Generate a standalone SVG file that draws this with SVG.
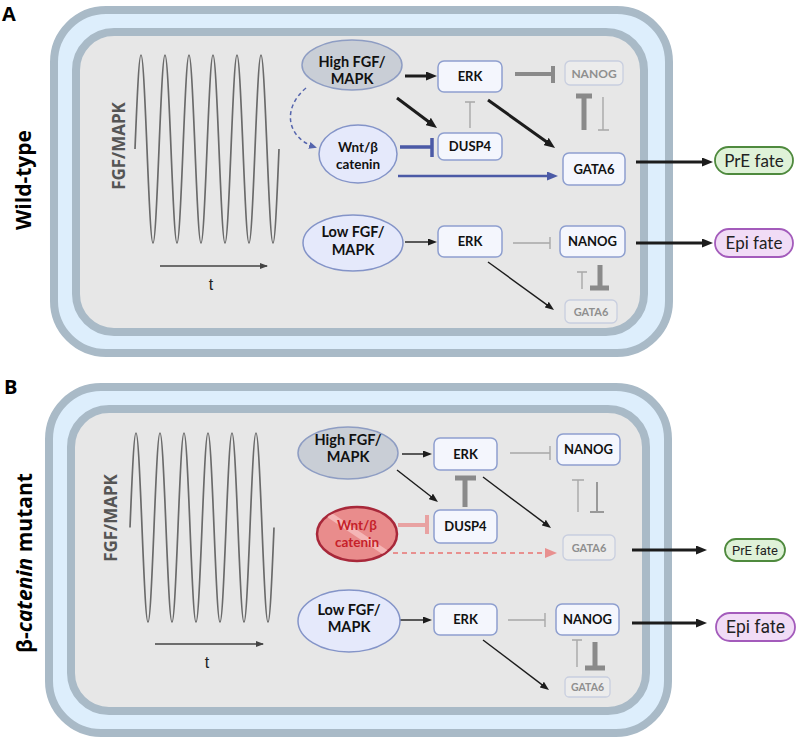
<svg xmlns="http://www.w3.org/2000/svg" width="798" height="740" viewBox="0 0 798 740">
<style>
.cellOuter{fill:#ddeefc;stroke:#a9bac7;stroke-width:8}
.cellInner{fill:#e7e7e7;stroke:#a9bac7;stroke-width:8}
.box{fill:#f4f6fd;stroke:#8e9fcf;stroke-width:1.5}
.boxF{fill:#ececec;stroke:#c8cedf;stroke-width:1.3}
.lbl{font-family:Lato,"Liberation Sans",sans-serif;font-weight:700;fill:#111;text-anchor:middle}
.lblF{font-family:Lato,"Liberation Sans",sans-serif;font-weight:700;fill:#8f8f8f;text-anchor:middle}
.ell{fill:#e5e9fb;stroke:#8494c8;stroke-width:1.5}
.ellG{fill:#c9ced6;stroke:#8e9dc3;stroke-width:1.5}
.wave{fill:none;stroke:#6a6a6a;stroke-width:1.7}
.ax{font-family:"Liberation Sans",Arial,sans-serif;fill:#222;text-anchor:middle}
.axl{font-family:"Open Sans","Liberation Sans",sans-serif;font-weight:700;fill:#555;text-anchor:middle}
.side{font-family:"Open Sans","Liberation Sans",sans-serif;font-weight:700;fill:#000;text-anchor:middle}
.thick{stroke:#1c1c1c;stroke-width:3;fill:none}
.thin{stroke:#1c1c1c;stroke-width:1.4;fill:none}
.inhT{stroke:#8a8a8a;stroke-width:5;fill:none}
.inhM{stroke:#8a8a8a;stroke-width:4;fill:none}
.inhS{stroke:#a8a8a8;stroke-width:1.4;fill:none}
.fate{font-family:Lato,"Liberation Sans",sans-serif;fill:#222;text-anchor:middle}
.fateR{font-family:Roboto,"Liberation Sans",sans-serif;fill:#222;text-anchor:middle}
.pre{fill:#dff2d8;stroke:#4f8a3e;stroke-width:1.8}
.epi{fill:#f1dcf6;stroke:#a35bbb;stroke-width:1.8}
</style>
<defs>
<marker id="ahK" viewBox="0 0 11 9" refX="6" refY="4.5" markerWidth="11" markerHeight="9" markerUnits="userSpaceOnUse" orient="auto"><path d="M0,0 L11,4.5 L0,9 z" fill="#1c1c1c"/></marker>
<marker id="ahk" viewBox="0 0 9 7" refX="5" refY="3.5" markerWidth="9" markerHeight="7" markerUnits="userSpaceOnUse" orient="auto"><path d="M0,0 L9,3.5 L0,7 z" fill="#1c1c1c"/></marker>
<marker id="ahAx" viewBox="0 0 8 6" refX="7" refY="3" markerWidth="8" markerHeight="6" markerUnits="userSpaceOnUse" orient="auto"><path d="M0,0 L8,3 L0,6 z" fill="#444"/></marker>
<marker id="ahB" viewBox="0 0 11 9" refX="6" refY="4.5" markerWidth="11" markerHeight="9" markerUnits="userSpaceOnUse" orient="auto"><path d="M0,0 L11,4.5 L0,9 z" fill="#4b5aa6"/></marker>
<marker id="ahBd" viewBox="0 0 8 7" refX="7" refY="3.5" markerWidth="8" markerHeight="7" markerUnits="userSpaceOnUse" orient="auto"><path d="M0,0 L8,3.5 L0,7 z" fill="#5565ad"/></marker>
<marker id="ahP" viewBox="0 0 12 10" refX="6" refY="5" markerWidth="12" markerHeight="10" markerUnits="userSpaceOnUse" orient="auto"><path d="M0,0 L12,5 L0,10 z" fill="#e8908f"/></marker>
<clipPath id="wntClip"><ellipse cx="357" cy="534" rx="39" ry="26"/></clipPath>
</defs>

<!-- Panel labels -->
<text x="2" y="21" font-family="Open Sans, Liberation Sans, sans-serif" font-weight="700" font-size="20" fill="#000">A</text>
<text x="4" y="394" font-family="Open Sans, Liberation Sans, sans-serif" font-weight="700" font-size="20" fill="#000">B</text>
<text class="side" font-size="21" transform="translate(31,180) rotate(-90)">Wild-type</text>
<text class="side" font-size="21" transform="translate(32,563) rotate(-90)">β-<tspan font-style="italic">catenin</tspan> mutant</text>

<!-- Cells -->
<g id="cellA">
<rect class="cellOuter" x="54" y="10" width="615" height="343" rx="52"/>
<rect class="cellInner" x="76" y="32" width="568" height="300" rx="38"/>
</g>
<g id="cellB">
<rect class="cellOuter" x="49" y="387" width="619" height="346" rx="52"/>
<rect class="cellInner" x="71" y="409" width="575" height="302" rx="38"/>
</g>

<!-- Oscillation plots -->
<g id="plotA">
<path class="wave" d="M135,149 c5.09,-125.3 6.91,-125.3 12,0 s6.91,125.3 12,0 s6.91,-125.3 12,0 s6.91,125.3 12,0 s6.91,-125.3 12,0 s6.91,125.3 12,0 s6.91,-125.3 12,0 s6.91,125.3 12,0 s6.91,-125.3 12,0 s6.91,125.3 12,0 s6.91,-125.3 12,0 s6.91,125.3 12,0"/>
<text class="axl" font-size="17" transform="translate(125,146) rotate(-90)">FGF/MAPK</text>
<line x1="160" y1="266" x2="267" y2="266" stroke="#444" stroke-width="1.5" marker-end="url(#ahAx)"/>
<text class="ax" x="211" y="290" font-size="16">t</text>
</g>
<g id="plotB">
<path class="wave" d="M130,527.5 c5.09,-126 6.91,-126 12,0 s6.91,126 12,0 s6.91,-126 12,0 s6.91,126 12,0 s6.91,-126 12,0 s6.91,126 12,0 s6.91,-126 12,0 s6.91,126 12,0 s6.91,-126 12,0 s6.91,126 12,0 s6.91,-126 12,0 s6.91,126 12,0"/>
<text class="axl" font-size="17" transform="translate(117,518) rotate(-90)">FGF/MAPK</text>
<line x1="155" y1="644" x2="263" y2="644" stroke="#444" stroke-width="1.5" marker-end="url(#ahAx)"/>
<text class="ax" x="207" y="668" font-size="16">t</text>
</g>

<!-- Connectors -->
<g id="connectors">
<!-- Panel A top -->
<line class="thick" x1="405" y1="76" x2="432" y2="76" marker-end="url(#ahK)"/>
<line class="thick" x1="397" y1="98" x2="433" y2="125" marker-end="url(#ahK)"/>
<line class="thick" x1="488" y1="100" x2="551" y2="145" marker-end="url(#ahK)"/>
<path class="inhM" d="M515,74 H553 M553,66 V83"/>
<path class="inhS" d="M470,128 V102 M465,102 H475"/>
<path class="inhT" d="M584,130 V96 M576,96 H592"/>
<path class="inhS" d="M603,97 V130 M598,130 H609"/>
<path d="M400,147 H432 M432,138 V157" stroke="#4b5aa6" stroke-width="3.5" fill="none"/>
<line x1="398" y1="176" x2="553" y2="176" stroke="#4b5aa6" stroke-width="2.5" marker-end="url(#ahB)"/>
<path d="M306,88 C282,108 286,138 316,147.5" stroke="#5565ad" stroke-width="1.5" stroke-dasharray="4,3" fill="none" marker-end="url(#ahBd)"/>
<line class="thick" x1="636" y1="162" x2="708" y2="162" marker-end="url(#ahK)"/>
<!-- Panel A bottom -->
<line class="thin" x1="405" y1="242" x2="433" y2="242" marker-end="url(#ahk)"/>
<path class="inhS" d="M513,243 H550 M550,237 V249"/>
<line class="thin" x1="488" y1="262" x2="550.8" y2="307.6" marker-end="url(#ahk)"/>
<path class="inhS" d="M582,289 V272 M577,272 H587"/>
<path class="inhT" d="M600,265 V288 M590,288 H609"/>
<line class="thick" x1="636" y1="243" x2="708" y2="243" marker-end="url(#ahK)"/>
<!-- Panel B top -->
<line class="thin" x1="402" y1="454" x2="428" y2="454" marker-end="url(#ahk)"/>
<line class="thin" x1="397" y1="470" x2="434.8" y2="499.5" marker-end="url(#ahk)"/>
<path class="inhS" d="M510,453 H550 M550,446 V460"/>
<path class="inhT" d="M465,507 V478 M455,478 H476"/>
<line class="thin" x1="483" y1="477" x2="547.8" y2="525.6" marker-end="url(#ahk)"/>
<path class="inhS" d="M578,512 V480 M572,480 H584"/>
<path d="M597,482 V512 M590,512 H604" stroke="#999" stroke-width="2" fill="none"/>
<path d="M398,525 H427 M427,515 V534" stroke="#e8a2a2" stroke-width="4" fill="none"/>
<line x1="393" y1="553" x2="551" y2="553" stroke="#e8908f" stroke-width="2" stroke-dasharray="5,4" marker-end="url(#ahP)"/>
<line class="thick" x1="632" y1="550" x2="702" y2="550" marker-end="url(#ahK)"/>
<!-- Panel B bottom -->
<line class="thin" x1="400" y1="620" x2="428" y2="620" marker-end="url(#ahk)"/>
<path class="inhS" d="M508,620 H545 M545,613 V627"/>
<line class="thin" x1="483" y1="640" x2="545.8" y2="687.6" marker-end="url(#ahk)"/>
<path class="inhS" d="M577,667 V640 M572,640 H582"/>
<path class="inhT" d="M595,642 V668 M585,668 H605"/>
<line class="thick" x1="632" y1="623" x2="702" y2="623" marker-end="url(#ahK)"/>
</g>

<!-- Panel A nodes -->
<g id="A-highFGF">
<ellipse class="ellG" cx="352" cy="65" rx="50" ry="25"/>
<text class="lbl" x="352" y="66.5" font-size="14.5">High  FGF/</text>
<text class="lbl" x="352" y="84" font-size="14.5">MAPK</text>
</g>
<g id="A-ERK1"><rect class="box" x="438" y="61" width="64" height="31" rx="6"/><text class="lbl" x="470" y="81" font-size="13">ERK</text></g>
<g id="A-NANOG1"><rect class="boxF" x="565" y="61" width="58" height="24" rx="5"/><text class="lblF" x="594" y="77.5" font-size="12">NANOG</text></g>
<g id="A-DUSP4"><rect class="box" x="438" y="133" width="64" height="27" rx="6"/><text class="lbl" x="470" y="151" font-size="13">DUSP4</text></g>
<g id="A-GATA61"><rect class="box" x="563" y="153" width="62" height="32" rx="6"/><text class="lbl" x="594" y="173.5" font-size="13">GATA6</text></g>
<g id="A-Wnt">
<ellipse class="ell" cx="358" cy="154" rx="39" ry="29" stroke="#7f8fcc"/>
<text class="lbl" x="358" y="151.5" font-size="13.5">Wnt/β</text>
<text class="lbl" x="358" y="168.5" font-size="13.5">catenin</text>
</g>
<g id="A-lowFGF">
<ellipse class="ell" cx="353" cy="243" rx="50" ry="28"/>
<text class="lbl" x="353" y="237" font-size="14.5">Low  FGF/</text>
<text class="lbl" x="353" y="254.5" font-size="14.5">MAPK</text>
</g>
<g id="A-ERK2"><rect class="box" x="438" y="226" width="64" height="31" rx="6"/><text class="lbl" x="470" y="246" font-size="13">ERK</text></g>
<g id="A-NANOG2"><rect class="box" x="560" y="226" width="65" height="31" rx="6"/><text class="lbl" x="592.5" y="246" font-size="13">NANOG</text></g>
<g id="A-GATA62"><rect class="boxF" x="565" y="300" width="52" height="23" rx="5"/><text class="lblF" x="591" y="316" font-size="11">GATA6</text></g>
<g id="A-PrE"><rect class="pre" x="715" y="147" width="78" height="27" rx="13.5"/><text class="fate" x="754" y="166.5" font-size="17">PrE fate</text></g>
<g id="A-Epi"><rect class="epi" x="715" y="229" width="78" height="28" rx="14"/><text class="fate" x="754" y="249" font-size="17">Epi fate</text></g>

<!-- Panel B nodes -->
<g id="B-highFGF">
<ellipse class="ellG" cx="348" cy="453" rx="50" ry="26"/>
<text class="lbl" x="348" y="444.5" font-size="14.5">High  FGF/</text>
<text class="lbl" x="348" y="462" font-size="14.5">MAPK</text>
</g>
<g id="B-ERK1"><rect class="box" x="434" y="438" width="63" height="32" rx="6"/><text class="lbl" x="465.5" y="458.5" font-size="13">ERK</text></g>
<g id="B-NANOG1"><rect class="box" x="557" y="434" width="63" height="31" rx="6"/><text class="lbl" x="588.5" y="454" font-size="13">NANOG</text></g>
<g id="B-DUSP4"><rect class="box" x="434" y="510" width="63" height="33" rx="6"/><text class="lbl" x="465.5" y="531" font-size="13">DUSP4</text></g>
<g id="B-Wnt">
<ellipse cx="357" cy="534" rx="40" ry="27" fill="#e98c8c" stroke="#a8283a" stroke-width="2.5"/>
<line x1="325" y1="512" x2="392" y2="557" stroke="#f4b6b6" stroke-width="6" clip-path="url(#wntClip)"/>
<text x="357" y="530" font-size="13.5" font-family="Lato, Liberation Sans, sans-serif" font-weight="700" fill="#c61f2a" text-anchor="middle">Wnt/β</text>
<text x="357" y="546.5" font-size="13.5" font-family="Lato, Liberation Sans, sans-serif" font-weight="700" fill="#c61f2a" text-anchor="middle">catenin</text>
</g>
<g id="B-GATA61"><rect class="boxF" x="563" y="535" width="52" height="25" rx="5"/><text class="lblF" x="589" y="552" font-size="11">GATA6</text></g>
<g id="B-lowFGF">
<ellipse class="ell" cx="349" cy="621" rx="51" ry="31"/>
<text class="lbl" x="349" y="614.5" font-size="14.5">Low  FGF/</text>
<text class="lbl" x="349" y="632" font-size="14.5">MAPK</text>
</g>
<g id="B-ERK2"><rect class="box" x="434" y="604" width="63" height="31" rx="6"/><text class="lbl" x="465.5" y="624" font-size="13">ERK</text></g>
<g id="B-NANOG2"><rect class="box" x="556" y="604" width="63" height="31" rx="6"/><text class="lbl" x="587.5" y="624" font-size="13">NANOG</text></g>
<g id="B-GATA62"><rect class="boxF" x="565" y="677" width="45" height="20" rx="4"/><text class="lblF" x="587.5" y="691" font-size="10.5">GATA6</text></g>
<g id="B-PrE"><rect class="pre" x="725" y="539" width="60" height="22" rx="11"/><text class="fateR" x="755" y="554.5" font-size="13">PrE fate</text></g>
<g id="B-Epi"><rect class="epi" x="716" y="613" width="79" height="28" rx="14"/><text class="fateR" x="755.5" y="633" font-size="17.5">Epi fate</text></g>
</svg>
